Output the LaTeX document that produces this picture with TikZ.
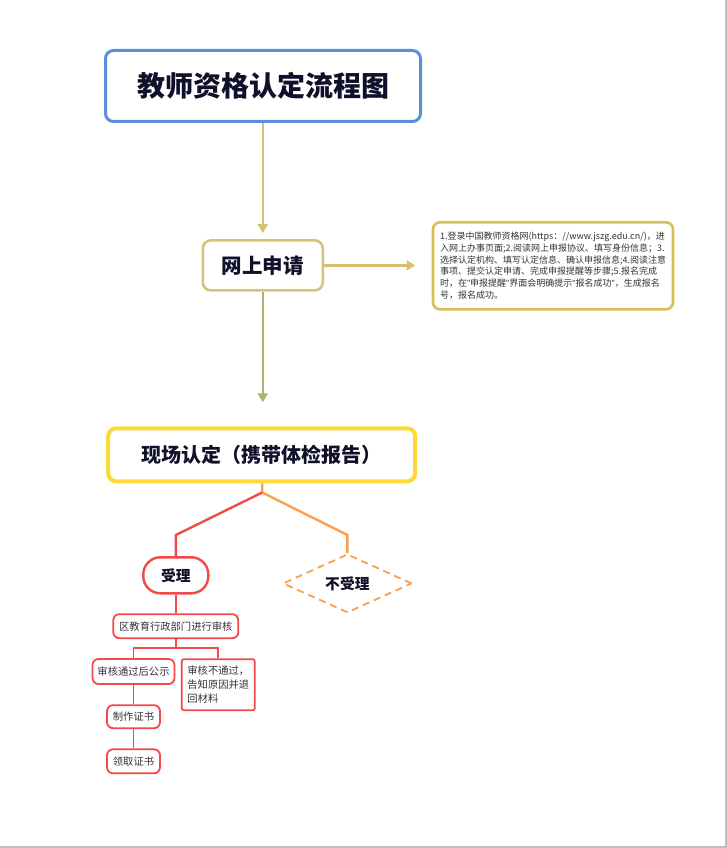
\documentclass[tikz,border=0pt]{standalone}
\usepackage{fontspec}
\setmainfont{Noto Sans CJK SC}
\newfontfamily\qfont{Liberation Sans}
\newcommand{\dq}{{\qfont\symbol{34}}}
\usetikzlibrary{arrows.meta,shapes.geometric}
\definecolor{tblue}{HTML}{5B8DD9}
\definecolor{khaki}{HTML}{D5C171}
\definecolor{khakib}{HTML}{D8C27A}
\definecolor{oliv}{HTML}{A8B86A}
\definecolor{yel}{HTML}{FFD938}
\definecolor{redl}{HTML}{F14A48}
\definecolor{orng}{HTML}{F9A04C}
\definecolor{notec}{HTML}{D9BE58}
\definecolor{ink}{HTML}{10102A}
\definecolor{txt}{HTML}{333333}
\tikzset{
  bigbox/.style={rounded corners=8pt, inner sep=0pt, text=ink, font=\bfseries},
  smallbox/.style={draw=redl, line width=1.8pt, rounded corners=6pt, inner sep=0pt, text=txt, font=\fontsize{10.3}{13.8}\selectfont},
  arr/.style={line width=2.4pt, -{Triangle[length=9pt,width=10pt]}},
  redline/.style={draw=redl, line width=2.4pt},
  thinred/.style={draw=redl, line width=1.8pt}
}
\begin{document}
\begin{tikzpicture}[x=1pt,y=-1pt]
\useasboundingbox (0,0) rectangle (727,848);
\draw[black!25, line width=1.5pt] (726.2,0) -- (726.2,847.2) -- (0,847.2);

% title
\node[bigbox, draw=tblue, line width=3pt, minimum width=315pt, minimum height=71pt,
      font=\bfseries\fontsize{28}{32}\selectfont] (title) at (263,86) {教师资格认定流程图};

% online application
\node[bigbox, draw=khakib, line width=2.6pt, minimum width=120pt, minimum height=50pt,
      font=\bfseries\fontsize{20.5}{24}\selectfont] (wsq) at (262.8,265.4) {网上申请};

% note
\node[draw=notec, line width=2.6pt, rounded corners=7pt, minimum width=240pt, minimum height=87pt,
      inner sep=0pt, align=left, text=txt, font=\fontsize{9}{11.7}\selectfont] (note) at (553,265.8)
{1.登录中国教师资格网(https：//www.jszg.edu.cn/)，进\\
入网上办事页面;2.阅读网上申报协议、填写身份信息；3.\\
选择认定机构、填写认定信息、确认申报信息;4.阅读注意\\
事项、提交认定申请、完成申报提醒等步骤;5.报名完成\\
时，在\dq 申报提醒\dq 界面会明确提示\dq 报名成功\dq ，生成报名\\
号，报名成功。};

% on-site
\node[bigbox, draw=yel, line width=4pt, minimum width=307pt, minimum height=53pt,
      font=\bfseries\fontsize{20}{24}\selectfont] (xc) at (261.7,454.8) {现场认定（携带体检报告）};

% accept / reject
\node[draw=redl, line width=2.4pt, rounded corners=17pt, minimum width=65pt, minimum height=36pt,
      inner sep=0pt, text=ink, font=\bfseries\fontsize{14.8}{18}\selectfont] (sl) at (175.8,575.3) {受理};
\node[diamond, draw=orng, line width=1.8pt, dash pattern=on 7pt off 5pt, minimum width=129pt, minimum height=51pt,
      inner sep=0pt, text=ink, font=\bfseries\fontsize{14.8}{18}\selectfont] (bsl) at (347.4,583.4) {不受理};

% review chain
\node[smallbox, minimum width=125pt, minimum height=24pt] (jy) at (175.8,626.2) {区教育行政部门进行审核};
\node[smallbox, minimum width=82pt, minimum height=25pt] (tg) at (133.5,671.5) {审核通过后公示};
\node[smallbox, rounded corners=2pt, minimum width=73pt, minimum height=51pt, align=left] (btg) at (218.3,684.7)
{审核不通过，\\告知原因并退\\回材料};
\node[smallbox, minimum width=53pt, minimum height=23pt] (zz) at (133.5,716.7) {制作证书};
\node[smallbox, minimum width=53pt, minimum height=24pt] (lq) at (133.5,761.3) {领取证书};

% connectors
\coordinate (rtip) at (415.5,265.4);
\draw[arr, draw=khaki, fill=khaki, shorten >=6pt] (wsq.north |- title.south) -- (wsq.north);
\draw[arr, draw=khaki, fill=khaki] (wsq.east) -- (rtip);
\draw[arr, draw=oliv, fill=oliv, shorten >=24pt] (wsq.south) -- (wsq.south |- xc.north);

\coordinate (br) at (262.2,492.5);
\coordinate (rl) at (175.8,535);
\coordinate (ol) at (347.4,535);
\draw[draw=orng, line width=2.4pt] (br |- xc.south) -- (br) -- (ol) -- (bsl.north);
\draw[redline, line join=round] (br) -- (rl) -- (sl.north);

\draw[redline] (sl.south) -- (jy.north);
\coordinate (jb) at (175.8,648.3);
\draw[thinred] (jy.south) -- (jb);
\draw[thinred] (tg.north) |- (jb) -| (btg.north);
\draw[thinred] (tg.south) -- (zz.north);
\draw[thinred] (zz.south) -- (lq.north);
\end{tikzpicture}
\end{document}
